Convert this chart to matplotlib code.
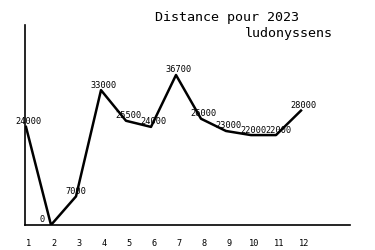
import matplotlib
matplotlib.use("Agg")
import matplotlib.pyplot as plt

# Dữ liệu: khoảng cách theo tháng
months = [1, 2, 3, 4, 5, 6, 7, 8, 9, 10, 11, 12]
distances = [24000, 0, 7000, 33000, 25500, 24000, 36700, 26000, 23000, 22000, 22000, 28000]
title_line1 = "Distance pour 2023"
title_line2 = "ludonyssens"

fig = plt.figure(figsize=(3.75, 2.5), dpi=100)
ax = fig.add_axes([25 / 375, 25 / 250, 325 / 375, 200 / 250])

ax.plot(months, distances, color="black", linewidth=1.8)
ax.set_xlim(0.96, 13.96)
ax.set_ylim(0, 48933)

for s in ["top", "right"]:
    ax.spines[s].set_visible(False)
ax.spines["left"].set_linewidth(1.2)
ax.spines["bottom"].set_linewidth(1.2)
ax.set_xticks([])
ax.set_yticks([])

small = dict(family="DejaVu Sans Mono", fontsize=6.2, color="black")

# Nhãn giá trị trên từng điểm
for m, d in zip(months, distances):
    ax.annotate(str(d), xy=(m, d), xytext=(-11, 5), textcoords="offset pixels",
                ha="left", va="center", **small)

# Nhãn tháng dưới trục
for m in months:
    ax.annotate(str(m), xy=(m, 0), xycoords=("data", "axes fraction"),
                xytext=(3, -18), textcoords="offset pixels",
                ha="center", va="center", **small)

big = dict(family="DejaVu Sans Mono", fontsize=9.6, color="black")
fig.text(155 / 375, 1 - 18 / 250, title_line1, ha="left", va="center", **big)
fig.text(333 / 375, 1 - 33 / 250, title_line2, ha="right", va="center", **big)

fig.savefig("out.png", dpi=100)
